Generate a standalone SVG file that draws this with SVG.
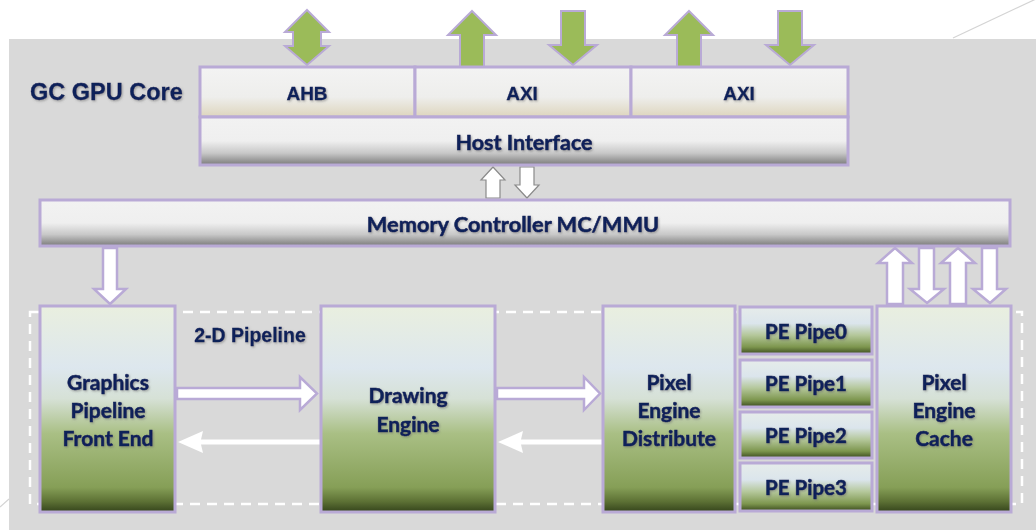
<svg xmlns="http://www.w3.org/2000/svg" width="1036" height="530" viewBox="0 0 1036 530">
  <defs>
    <linearGradient id="gBus" x1="0" y1="0" x2="0" y2="1">
      <stop offset="0" stop-color="#f3f3f3"/>
      <stop offset="0.6" stop-color="#eeeeec"/>
      <stop offset="1" stop-color="#ddd5bd"/>
    </linearGradient>
    <linearGradient id="gBar" x1="0" y1="0" x2="0" y2="1">
      <stop offset="0" stop-color="#f2f2f2"/>
      <stop offset="0.5" stop-color="#efefef"/>
      <stop offset="0.75" stop-color="#c8c8c8"/>
      <stop offset="1" stop-color="#7a7a7a"/>
    </linearGradient>
    <linearGradient id="gBlock" x1="0" y1="0" x2="0" y2="1">
      <stop offset="0" stop-color="#e9efdf"/>
      <stop offset="0.3" stop-color="#dde7ee"/>
      <stop offset="0.45" stop-color="#d6e1d6"/>
      <stop offset="0.62" stop-color="#a9bf84"/>
      <stop offset="0.88" stop-color="#869f57"/>
      <stop offset="0.95" stop-color="#5c7034"/>
      <stop offset="1" stop-color="#34431b"/>
    </linearGradient>
    <linearGradient id="gPipe" x1="0" y1="0" x2="0" y2="1">
      <stop offset="0" stop-color="#e6ecea"/>
      <stop offset="0.35" stop-color="#dbe5ec"/>
      <stop offset="0.6" stop-color="#b4c79a"/>
      <stop offset="0.85" stop-color="#7d964e"/>
      <stop offset="1" stop-color="#3a4a1e"/>
    </linearGradient>
    <filter id="shadow" x="-10%" y="-20%" width="120%" height="150%">
      <feDropShadow dx="1" dy="1.2" stdDeviation="0.8" flood-color="#6b6b6b" flood-opacity="0.55"/>
    </filter>
    <filter id="soft" x="-20%" y="-50%" width="140%" height="200%">
      <feGaussianBlur stdDeviation="0.7"/>
    </filter>
  </defs>
  <style>
    .bg { fill: #d9d9d9; }
    .bus { fill: url(#gBus); stroke: #b9aad6; stroke-width: 3; }
    .bar { fill: url(#gBar); stroke: #b9aad6; stroke-width: 3; }
    .block { fill: url(#gBlock); stroke: #b9aad6; stroke-width: 3; }
    .pipe { fill: url(#gPipe); stroke: #b9aad6; stroke-width: 3; }
    .green { fill: #9bbb59; stroke: #b9aad6; stroke-width: 2; }
    .wa { fill: #ffffff; stroke: #b9aad6; stroke-width: 2.5; }
    .wg { fill: #ffffff; stroke: #8a8a8a; stroke-width: 1.2; }
    .ret { fill: #ffffff; stroke: none; }
    .arial { font-family: "Liberation Sans", Arial, sans-serif; font-weight: bold; fill: #10205a; stroke: #10205a; stroke-width: 0.3; filter: url(#shadow); }
    .cal { font-family: Lato, "Open Sans", sans-serif; font-weight: bold; fill: #10205a; stroke: #10205a; stroke-width: 0.55; filter: url(#shadow); text-anchor: middle; }
    .dash { fill: none; stroke: #ffffff; stroke-width: 2.5; stroke-dasharray: 10 7; }
  </style>

  <rect width="1036" height="530" fill="#ffffff"/>
  <!-- core background panel -->
  <rect class="bg" x="9" y="39" width="1027" height="491"/>
  <line x1="953" y1="38" x2="1036" y2="-1" stroke="#d4d4d4" stroke-width="1.2"/>
  <line x1="0" y1="507" x2="9" y2="499" stroke="#d4d4d4" stroke-width="1.2"/>

  <text class="arial" x="30" y="100" font-size="23.5">GC GPU Core</text>

  <!-- 2-D pipeline boundary -->
  <rect class="dash" x="30" y="312" width="992" height="192"/>
  <text class="arial" x="250" y="342" font-size="19.5" text-anchor="middle">2-D Pipeline</text>

  <g id="connectors">
    <!-- external bus arrows -->
    <path class="green" d="M307,10 L329,32 L321,32 L321,46 L329,46 L307,65 L285,46 L293,46 L293,32 L285,32 Z"/>
    <path class="green" d="M472,11 L496,35 L484,35 L484,67 L460,67 L460,35 L448,35 Z"/>
    <path class="green" d="M573,65 L597,45 L585,45 L585,11 L561,11 L561,45 L549,45 Z"/>
    <path class="green" d="M689,11 L713,35 L701,35 L701,67 L677,67 L677,35 L665,35 Z"/>
    <path class="green" d="M790,65 L814,45 L802,45 L802,11 L778,11 L778,45 L766,45 Z"/>
    <!-- host interface to memory controller -->
    <path class="wg" d="M493,167 L505,180 L500,180 L500,198 L486,198 L486,180 L481,180 Z"/>
    <path class="wg" d="M527,198 L539,185 L534,185 L534,167 L520,167 L520,185 L515,185 Z"/>
    <!-- memory controller to front end -->
    <path class="wa" d="M110,304 L126,289 L117,289 L117,248 L103,248 L103,289 L94,289 Z"/>
    <!-- memory controller to pixel engine cache -->
    <path class="wa" d="M895,248 L912,263 L903,263 L903,304 L887,304 L887,263 L878,263 Z"/>
    <path class="wa" d="M927,303 L944,289 L934,289 L934,248 L919,248 L919,289 L910,289 Z"/>
    <path class="wa" d="M958,248 L975,263 L966,263 L966,304 L950,304 L950,263 L941,263 Z"/>
    <path class="wa" d="M990,303 L1006,289 L997,289 L997,248 L982,248 L982,289 L973,289 Z"/>
    <!-- forward data path -->
    <path class="wa" d="M177,388 L300,388 L300,377 L317,393.5 L300,410 L300,399 L177,399 Z"/>
    <path class="wa" d="M497,388 L584,388 L584,377 L600,393.5 L584,410 L584,399 L497,399 Z"/>
    <!-- return path -->
    <g filter="url(#soft)">
      <path class="ret" d="M178,442 L203,431 L201,439.5 L320,439.5 L320,444.5 L201,444.5 L203,453 Z"/>
      <path class="ret" d="M498,442 L523,431 L521,439.5 L602,439.5 L602,444.5 L521,444.5 L523,453 Z"/>
    </g>
  </g>

  <g id="ahb">
    <rect class="bus" x="200" y="67" width="215" height="50"/>
    <text class="arial" x="307" y="100" font-size="19" text-anchor="middle">AHB</text>
  </g>
  <g id="axi0">
    <rect class="bus" x="415" y="67" width="216" height="50"/>
    <text class="arial" x="522" y="100" font-size="19" text-anchor="middle">AXI</text>
  </g>
  <g id="axi1">
    <rect class="bus" x="631" y="67" width="217" height="50"/>
    <text class="arial" x="739" y="100" font-size="19" text-anchor="middle">AXI</text>
  </g>
  <g id="host-interface">
    <rect class="bar" x="200" y="117" width="648" height="48"/>
    <text class="cal" x="524" y="150" font-size="21.5">Host Interface</text>
  </g>
  <g id="memory-controller">
    <rect class="bar" x="40" y="200" width="970" height="46"/>
    <text class="cal" x="513" y="232" font-size="21.8">Memory Controller MC/MMU</text>
  </g>

  <g id="front-end">
    <rect class="block" x="40" y="306" width="135" height="206"/>
    <text class="cal" x="108" y="390" font-size="21">Graphics</text>
    <text class="cal" x="108" y="418" font-size="21">Pipeline</text>
    <text class="cal" x="108" y="446" font-size="21">Front End</text>
  </g>
  <g id="drawing-engine">
    <rect class="block" x="321" y="306" width="174" height="206"/>
    <text class="cal" x="408" y="403" font-size="21">Drawing</text>
    <text class="cal" x="408" y="432" font-size="21">Engine</text>
  </g>
  <g id="pe-distribute">
    <rect class="block" x="603" y="306" width="132" height="206"/>
    <text class="cal" x="669" y="390" font-size="21">Pixel</text>
    <text class="cal" x="669" y="418" font-size="21">Engine</text>
    <text class="cal" x="669" y="446" font-size="21">Distribute</text>
  </g>
  <g id="pe-pipe0">
    <rect class="pipe" x="740" y="307" width="132" height="47"/>
    <text class="cal" x="806" y="339" font-size="20.5">PE Pipe0</text>
  </g>
  <g id="pe-pipe1">
    <rect class="pipe" x="740" y="360" width="132" height="47"/>
    <text class="cal" x="806" y="391" font-size="20.5">PE Pipe1</text>
  </g>
  <g id="pe-pipe2">
    <rect class="pipe" x="740" y="412" width="132" height="46"/>
    <text class="cal" x="806" y="443" font-size="20.5">PE Pipe2</text>
  </g>
  <g id="pe-pipe3">
    <rect class="pipe" x="740" y="463" width="132" height="48"/>
    <text class="cal" x="806" y="495" font-size="20.5">PE Pipe3</text>
  </g>
  <g id="pe-cache">
    <rect class="block" x="877" y="306" width="134" height="206"/>
    <text class="cal" x="944" y="390" font-size="21">Pixel</text>
    <text class="cal" x="944" y="418" font-size="21">Engine</text>
    <text class="cal" x="944" y="446" font-size="21">Cache</text>
  </g>
</svg>
